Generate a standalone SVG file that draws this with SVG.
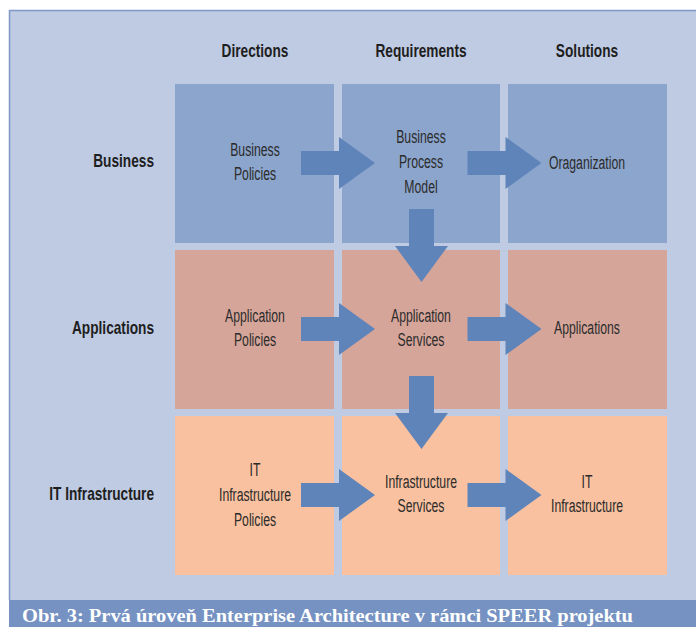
<svg xmlns="http://www.w3.org/2000/svg" width="696" height="627" viewBox="0 0 696 627">
<style>
.lbl{font-family:"Liberation Sans",Arial,sans-serif;font-size:18px;fill:#2b2b2b;text-anchor:middle}
.hdr{font-family:"Liberation Sans",Arial,sans-serif;font-size:18px;font-weight:bold;fill:#1e1e1e;text-anchor:middle}
.rowh{font-family:"Liberation Sans",Arial,sans-serif;font-size:18px;font-weight:bold;fill:#1e1e1e;text-anchor:end}
.r1{fill:#8CA5CD}.r2{fill:#D6A59A}.r3{fill:#F9C19F}
.arr{fill:#5F84BA}
.cap{font-family:"Liberation Serif","Times New Roman",serif;font-size:19.5px;font-weight:bold;fill:#ffffff}
</style>
<rect x="0" y="0" width="696" height="627" fill="#ffffff"/>
<rect x="9" y="10" width="687" height="590" fill="#BECBE3"/>
<line x1="9" y1="10.5" x2="696" y2="10.5" stroke="#7E98C8" stroke-width="1.5"/>
<line x1="9.5" y1="10" x2="9.5" y2="600" stroke="#7E98C8" stroke-width="1.5"/>
<rect x="9" y="600" width="687" height="27" fill="#7592C2"/>
<text class="cap" x="22" y="622" textLength="611" lengthAdjust="spacingAndGlyphs">Obr. 3: Prvá úroveň Enterprise Architecture v rámci SPEER projektu</text>

<g id="headers">
<text class="hdr" transform="translate(255,57) scale(0.76,1)">Directions</text>
<text class="hdr" transform="translate(421,57) scale(0.76,1)">Requirements</text>
<text class="hdr" transform="translate(587,57) scale(0.76,1)">Solutions</text>
<text class="rowh" transform="translate(154,167) scale(0.76,1)">Business</text>
<text class="rowh" transform="translate(154,334) scale(0.76,1)">Applications</text>
<text class="rowh" transform="translate(154,500) scale(0.76,1)">IT Infrastructure</text>
</g>

<g id="n-business-policies">
<rect class="r1" x="175" y="84" width="159" height="159"/>
<text class="lbl" transform="translate(255,156) scale(0.68,1)">Business</text>
<text class="lbl" transform="translate(255,180) scale(0.68,1)">Policies</text>
</g>
<g id="n-bpm">
<rect class="r1" x="342" y="84" width="158" height="159"/>
<text class="lbl" transform="translate(421,143) scale(0.68,1)">Business</text>
<text class="lbl" transform="translate(421,168) scale(0.68,1)">Process</text>
<text class="lbl" transform="translate(421,193) scale(0.68,1)">Model</text>
</g>
<g id="n-organization">
<rect class="r1" x="508" y="84" width="159" height="159"/>
<text class="lbl" transform="translate(587,169) scale(0.68,1)">Oraganization</text>
</g>

<g id="n-app-policies">
<rect class="r2" x="175" y="250" width="159" height="159"/>
<text class="lbl" transform="translate(255,322) scale(0.68,1)">Application</text>
<text class="lbl" transform="translate(255,346) scale(0.68,1)">Policies</text>
</g>
<g id="n-app-services">
<rect class="r2" x="342" y="250" width="158" height="159"/>
<text class="lbl" transform="translate(421,322) scale(0.68,1)">Application</text>
<text class="lbl" transform="translate(421,346) scale(0.68,1)">Services</text>
</g>
<g id="n-applications">
<rect class="r2" x="508" y="250" width="159" height="159"/>
<text class="lbl" transform="translate(587,334) scale(0.68,1)">Applications</text>
</g>

<g id="n-it-policies">
<rect class="r3" x="175" y="416" width="159" height="159"/>
<text class="lbl" transform="translate(255,476) scale(0.68,1)">IT</text>
<text class="lbl" transform="translate(255,501) scale(0.68,1)">Infrastructure</text>
<text class="lbl" transform="translate(255,526) scale(0.68,1)">Policies</text>
</g>
<g id="n-infra-services">
<rect class="r3" x="342" y="416" width="158" height="159"/>
<text class="lbl" transform="translate(421,488) scale(0.68,1)">Infrastructure</text>
<text class="lbl" transform="translate(421,512) scale(0.68,1)">Services</text>
</g>
<g id="n-it-infra">
<rect class="r3" x="508" y="416" width="159" height="159"/>
<text class="lbl" transform="translate(587,488) scale(0.68,1)">IT</text>
<text class="lbl" transform="translate(587,512) scale(0.68,1)">Infrastructure</text>
</g>

<defs>
<path id="harr" d="M0,-12 H38 V-26 L74,0 L38,26 V12 H0 Z"/>
<path id="varr" d="M-12.5,0 H12.5 V37 H26.5 L0,73 L-26.5,37 H-12.5 Z"/>
</defs>
<g id="connectors" class="arr">
<use href="#harr" x="301" y="163"/>
<use href="#harr" x="467.5" y="163"/>
<use href="#harr" x="301" y="329"/>
<use href="#harr" x="467.5" y="329"/>
<use href="#harr" x="301" y="495"/>
<use href="#harr" x="467.5" y="495"/>
<use href="#varr" x="421.5" y="209"/>
<use href="#varr" x="421.5" y="376"/>
</g>
</svg>
